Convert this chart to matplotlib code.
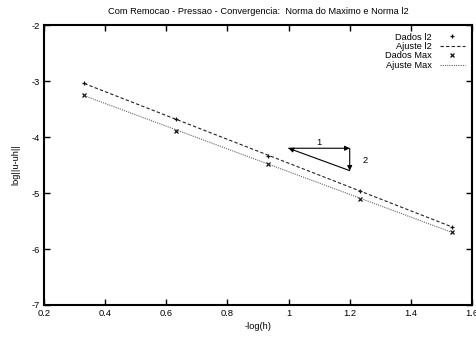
import numpy as np
import matplotlib.pyplot as plt

# data
neg_log_h = [0.332, 0.633, 0.934, 1.235, 1.536]
log_err_l2 = [-3.04, -3.68, -4.34, -4.97, -5.60]
log_err_max = [-3.25, -3.89, -4.48, -5.10, -5.70]

x_ticks = [0.2, 0.4, 0.6, 0.8, 1.0, 1.2, 1.4, 1.6]
x_tick_labels = ["0.2", "0.4", "0.6", "0.8", "1", "1.2", "1.4", "1.6"]
y_ticks = [-7, -6, -5, -4, -3, -2]

# slope triangle corners (run 1, rise 2)
tri_x = [1.0, 1.2]
tri_y = [-4.2, -4.6]

plt.rcParams["font.family"] = ["Liberation Sans", "DejaVu Sans"]
plt.rcParams["axes.unicode_minus"] = False
fs = 6.7

fig = plt.figure(figsize=(4.76, 3.39), dpi=100)
ax = fig.add_axes([0.0924, 0.1003, 0.8992, 0.8257])

x = np.array(neg_log_h)
p_l2 = np.polyfit(x, log_err_l2, 1)
p_max = np.polyfit(x, log_err_max, 1)
xf = np.array([x.min(), x.max()])

ax.plot(x, log_err_l2, linestyle="none", marker="+", ms=3.5, mew=0.9,
        color="#111111", label="Dados l2")
ax.plot(xf, np.polyval(p_l2, xf), linestyle=(0, (3, 2)), lw=0.8,
        color="#222222", label="Ajuste l2")
ax.plot(x, log_err_max, linestyle="none", marker="x", ms=3.2, mew=0.9,
        color="#111111", label="Dados Max")
ax.plot(xf, np.polyval(p_max, xf), linestyle=(0, (1, 1)), lw=0.8,
        color="#666666", label="Ajuste Max")

# slope triangle
arrow = dict(arrowstyle="-|>", color="black", lw=0.8, mutation_scale=7,
             shrinkA=0, shrinkB=0)
ax.annotate("", xy=(tri_x[1], tri_y[0]), xytext=(tri_x[0], tri_y[0]), arrowprops=arrow)
ax.annotate("", xy=(tri_x[1], tri_y[1]), xytext=(tri_x[1], tri_y[0]), arrowprops=arrow)
ax.annotate("", xy=(tri_x[0], tri_y[0]), xytext=(tri_x[1], tri_y[1]), arrowprops=arrow)
ax.text(1.1, -4.1, "1", fontsize=fs, ha="center", va="center")
ax.text(1.25, -4.41, "2", fontsize=fs, ha="center", va="center")

ax.set_xlim(0.2, 1.6)
ax.set_ylim(-7, -2)
ax.set_xticks(x_ticks)
ax.set_xticklabels(x_tick_labels)
ax.set_yticks(y_ticks)
ax.tick_params(direction="in", length=4, width=1, top=True, right=True,
               labelsize=fs, pad=3)
for s in ax.spines.values():
    s.set_linewidth(1.5)

ax.set_xlabel("-log(h)", fontsize=fs, labelpad=3)
ax.set_ylabel("log||u-uh||", fontsize=fs, labelpad=8)
ax.set_title("Com Remocao - Pressao - Convergencia:  Norma do Maximo e Norma l2",
             fontsize=fs, pad=8)

ax.legend(loc="upper right", frameon=False, fontsize=fs, markerfirst=False,
          handlelength=2.6, handletextpad=0.9, labelspacing=0.05,
          borderaxespad=0.5, borderpad=0.3)

fig.savefig("out.png", dpi=100)
